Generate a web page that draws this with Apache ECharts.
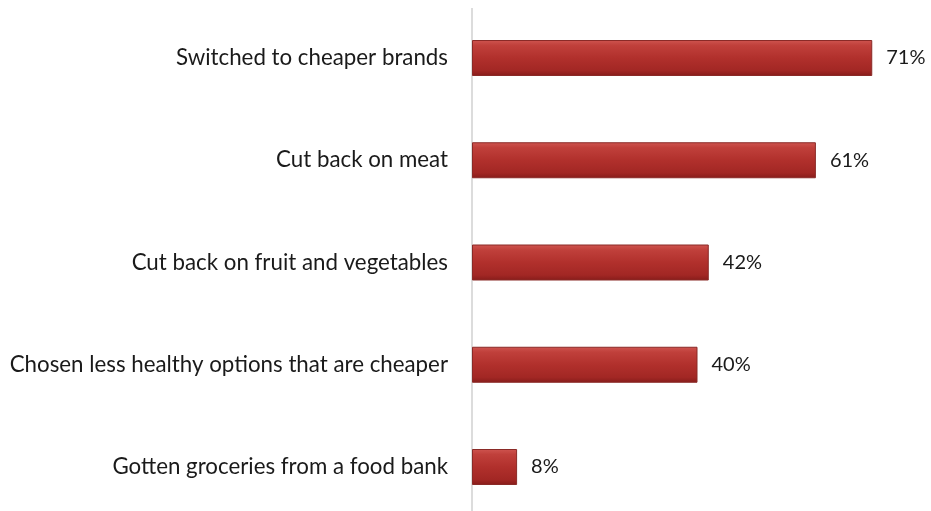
<!DOCTYPE html>
<html><head><meta charset="utf-8">
<script src="https://cdn.jsdelivr.net/npm/echarts@6/dist/echarts.min.js"></script>
<style>html,body{margin:0;padding:0;background:#fff}#c{width:931px;height:511px}</style>
</head><body><div id="c"></div>
<script>
const categories = [
  "Switched to cheaper brands",
  "Cut back on meat",
  "Cut back on fruit and vegetables",
  "Chosen less healthy options that are cheaper",
  "Gotten groceries from a food bank"
];
const values = [71, 61, 42, 40, 8];

const chart = echarts.init(document.getElementById('c'), null, {renderer: 'canvas'});
const font = 'Lato, "Open Sans", sans-serif';
chart.setOption({
  animation: false,
  grid: {left: 472, right: 8, top: 58, bottom: 44, containLabel: false},
  xAxis: {type: 'value', min: 0, max: 80, show: false},
  yAxis: {
    type: 'category', data: categories, inverse: true, boundaryGap: false,
    axisLine: {show: false},
    axisTick: {show: false},
    splitLine: {show: false},
    axisLabel: {color: '#1a1a1a', fontSize: 22.3, fontFamily: font, margin: 24}
  },
  graphic: [{
    type: 'line', z: 5,
    shape: {x1: 472, y1: 8, x2: 472, y2: 511},
    style: {stroke: '#d0d0d0', lineWidth: 1.5}
  }],
  series: [{
    type: 'bar', data: values, barWidth: 36, z: 10,
    itemStyle: {
      color: new echarts.graphic.LinearGradient(0, 0, 0, 1, [
        {offset: 0, color: '#cf5550'},
        {offset: 0.15, color: '#c0403b'},
        {offset: 0.5, color: '#b1302c'},
        {offset: 0.85, color: '#a22724'},
        {offset: 1, color: '#861c1a'}
      ]),
      borderColor: '#8a2a27', borderWidth: 1
    },
    label: {show: true, position: 'right', distance: 14, formatter: '{c}%',
      color: '#1a1a1a', fontSize: 20, fontFamily: font}
  }]
});
</script></body></html>
